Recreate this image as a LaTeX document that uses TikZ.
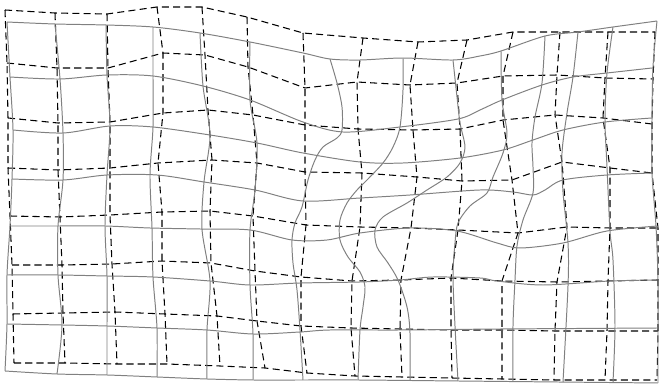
\documentclass[tikz,border=0pt]{standalone}
\usepackage{tikz}

\begin{document}
\begin{tikzpicture}[
    x=0.025cm, y=-0.025cm,
]

\tikzset{
    warp_line/.style = {draw=black!50, line width=0.7pt},
    ref_line/.style  = {draw=black, line width=0.75pt, dash pattern=on 5pt off 3pt},
}

\useasboundingbox (0,0) rectangle (660,386);

% =========== REFERENCE GRID (dashed) ===========
\foreach \c/\x/\y in {0/5/10, 1/55/13, 2/107/14, 3/157/7, 4/202/7, 5/247/17, 6/303/33,
    7/363/38, 8/418/42, 9/467/40, 10/513/32, 11/560/32, 12/608/32, 13/655/32}
    \coordinate (d\c-0) at (\x,\y);
\foreach \c/\x/\y in {0/7/63, 1/57/68, 2/108/68, 3/163/53, 4/205/55, 5/248/67, 6/305/88,
    7/357/82, 8/410/85, 9/457/83, 10/503/76, 11/557/75, 12/605/78, 13/653/79}
    \coordinate (d\c-1) at (\x,\y);
\foreach \c/\x/\y in {0/8/118, 1/58/123, 2/110/122, 3/163/113, 4/208/110, 5/253/115, 6/305/125,
    7/358/129, 8/413/130, 9/460/129, 10/503/120, 11/555/115, 12/603/118, 13/652/124}
    \coordinate (d\c-2) at (\x,\y);
\foreach \c/\x/\y in {0/8/168, 1/58/170, 2/110/168, 3/158/163, 4/212/160, 5/257/163, 6/305/172,
    7/362/173, 8/417/177, 9/462/181, 10/512/180, 11/562/162, 12/610/168, 13/652/173}
    \coordinate (d\c-3) at (\x,\y);
\foreach \c/\x/\y in {0/10/216, 1/60/217, 2/110/215, 3/162/212, 4/210/211, 5/253/216, 6/306/225,
    7/360/227, 8/411/228, 9/458/230, 10/518/233, 11/567/227, 12/610/228, 13/658/228}
    \coordinate (d\c-4) at (\x,\y);
\foreach \c/\x/\y in {0/12/265, 1/62/265, 2/112/264, 3/162/261, 4/211/263, 5/255/271, 6/301/277,
    7/352/281, 8/401/280, 9/451/278, 10/502/281, 11/557/282, 12/608/281, 13/658/280}
    \coordinate (d\c-5) at (\x,\y);
\foreach \c/\x/\y in {0/13/314, 1/63/313, 2/115/312, 3/165/314, 4/217/316, 5/257/321, 6/301/326,
    7/351/328, 8/400/329, 9/451/330, 10/502/330, 11/555/331, 12/607/331, 13/658/331}
    \coordinate (d\c-6) at (\x,\y);
\foreach \c/\x/\y in {0/14/363, 1/65/363, 2/117/364, 3/167/364, 4/220/366, 5/265/368, 6/307/373,
    7/355/376, 8/402/377, 9/452/378, 10/502/379, 11/554/380, 12/605/380, 13/657/380}
    \coordinate (d\c-7) at (\x,\y);

% rows and columns
\foreach \r in {0,...,7}
    \draw[ref_line] (d0-\r) \foreach \c in {1,...,13} { -- (d\c-\r) };
\foreach \c in {0,...,13}
    \draw[ref_line] (d\c-0) \foreach \r in {1,...,7} { -- (d\c-\r) };

% =========== WARPED GRID (solid) ===========
% rows
\draw[warp_line] plot[smooth] coordinates {(7,22) (55,24) (106,25) (153,27) (200,33) (250,42) (303,53) (330,59) (360,60) (403,58) (453,60) (480,56) (501,51) (545,36) (578,32) (613,27) (657,21)};
\draw[warp_line] plot[smooth] coordinates {(10,77) (60,79) (107,75) (153,76) (203,86) (250,100) (303,122) (343,132) (400,127) (458,119) (480,110) (502,100) (542,85) (573,77) (607,73) (652,68)};
\draw[warp_line] plot[smooth] coordinates {(13,130) (63,133) (110,126) (153,127) (210,135) (257,143) (303,153) (360,162) (403,163) (460,158) (503,150) (533,140) (563,130) (605,122) (652,118)};
\draw[warp_line] plot[smooth] coordinates {(12,179) (63,180) (107,175) (157,175) (204,182) (255,190) (303,201) (360,198) (410,195) (480,190) (513,192) (533,195) (545,190) (563,180) (607,175) (652,173)};
\draw[warp_line] plot[smooth] coordinates {(10,226) (58,226) (105,226) (150,228) (200,229) (250,230) (292,240) (327,240) (360,233) (410,228) (457,231) (497,243) (520,248) (563,243) (607,231) (658,226)};
\draw[warp_line] plot[smooth] coordinates {(7,275) (58,275) (107,276) (153,277) (210,281) (250,285) (300,283) (360,282) (400,280) (433,277) (480,278) (497,281) (543,285) (610,281) (658,280)};
\draw[warp_line] plot[smooth] coordinates {(7,324) (62,325) (107,326) (157,328) (207,330) (253,334) (300,332) (330,330) (400,330) (500,329) (658,328)};
\draw[warp_line] plot[smooth] coordinates {(5,371) (57,374) (107,375) (157,377) (207,379) (253,380) (303,380) (358,380) (458,381) (558,382) (658,383)};

% columns
\draw[warp_line] plot[smooth] coordinates {(7,22) (10,77) (13,130) (12,179) (10,226) (7,275) (7,324) (5,371)};
\draw[warp_line] plot[smooth] coordinates {(55,24) (60,79) (63,133) (63,180) (58,226) (58,275) (62,325) (57,374)};
\draw[warp_line] plot[smooth] coordinates {(106,25) (107,75) (110,126) (107,175) (105,226) (107,276) (107,326) (107,375)};
\draw[warp_line] plot[smooth] coordinates {(153,27) (153,76) (153,127) (150,175) (152,228) (153,277) (157,328) (157,377)};
\draw[warp_line] plot[smooth] coordinates {(200,33) (203,86) (210,135) (204,182) (202,229) (210,281) (207,330) (207,379)};
\draw[warp_line] plot[smooth] coordinates {(250,42) (250,100) (257,143) (255,190) (250,230) (250,285) (253,334) (253,380)};
\draw[warp_line] plot[smooth] coordinates {(330,59) (337,83) (342,107) (342,130) (337,138) (323,147) (315,160) (308,180) (302,207) (295,223) (292,240) (293,263) (297,290) (300,330) (303,380)};
\draw[warp_line] plot[smooth] coordinates {(403,58) (403,90) (400,127) (393,147) (383,163) (367,180) (357,190) (347,203) (340,220) (340,240) (348,257) (360,272) (365,287) (363,307) (360,330) (358,380)};
\draw[warp_line] plot[smooth] coordinates {(453,60) (457,97) (460,123) (465,147) (460,163) (447,177) (427,190) (407,203) (383,217) (375,230) (377,247) (388,263) (398,280) (407,307) (410,333) (410,381)};
\draw[warp_line] plot[smooth] coordinates {(501,51) (502,100) (507,133) (503,153) (493,177) (487,193) (470,206) (458,223) (455,243) (453,276) (455,326) (458,381)};
\draw[warp_line] plot[smooth] coordinates {(545,36) (542,83) (535,117) (532,143) (533,167) (533,193) (523,220) (517,246) (515,280) (513,326) (513,382)};
\draw[warp_line] plot[smooth] coordinates {(578,32) (573,77) (567,113) (562,153) (563,192) (568,243) (568,286) (563,382)};
\draw[warp_line] plot[smooth] coordinates {(613,27) (607,73) (605,120) (607,167) (610,231) (613,260) (615,326) (613,382)};
\draw[warp_line] plot[smooth] coordinates {(657,21) (653,67) (652,120) (652,173) (656,226) (658,280) (658,328) (658,383)};

\end{tikzpicture}
\end{document}
